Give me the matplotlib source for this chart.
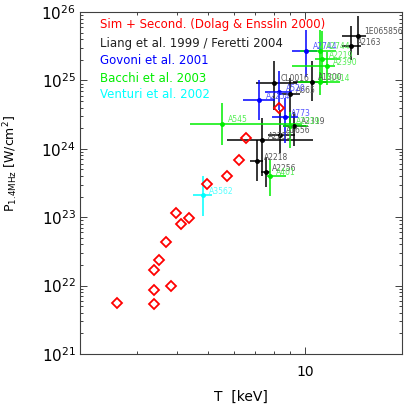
import numpy as np
import matplotlib
matplotlib.use("Agg")
import matplotlib.pyplot as plt
from matplotlib.ticker import LogLocator, NullFormatter, FixedLocator, FixedFormatter

# simulated haloes (Dolag & Ensslin 2000)
sim_T = [2.61, 3.40, 3.40, 3.39, 3.52, 3.83, 3.71, 3.97, 4.12, 4.37, 4.95, 5.74, 6.23, 6.54, 8.30]
sim_P = [5.5e21, 8.6e21, 5.4e21, 1.69e22, 2.37e22, 9.8e21, 4.4e22, 1.16e23, 7.9e22, 9.7e22,
         3.1e23, 3.97e23, 6.96e23, 1.44e24, 3.95e24]

# Liang et al. 1999 / Feretti 2004
lia_name = ['1E065856', 'A2163', 'CL0016', 'A1300', 'A665', 'A2319', 'A1656', 'A2255', 'A2218', 'A2256']
lia_T = [14.6, 13.9, 8.02, 10.5, 8.98, 9.26, 8.36, 7.33, 7.11, 7.56]
lia_T_lo = [13.0, 13.0, 7.04, 9.2, 8.36, 8.56, 7.66, 5.71, 6.75, 7.30]
lia_T_hi = [15.5, 14.9, 9.42, 11.7, 9.65, 10.1, 9.31, 10.6, 7.42, 7.78]
lia_P = [4.52e25, 3.19e25, 9.3e24, 9.6e24, 6.3e24, 2.18e24, 1.61e24, 1.33e24, 6.6e23, 4.54e23]
lia_P_lo = [2.36e25, 2.0e25, 3.73e24, 4.92e24, 2.3e24, 1.1e24, 8.8e23, 4.0e23, 3.36e23, 2.8e23]
lia_P_hi = [8.75e25, 6.25e25, 1.89e25, 1.89e25, 1.1e25, 3.5e24, 3.73e24, 2.85e24, 1.36e24, 7.7e23]

# Govoni et al. 2001
gov_name = ['A2744', 'A520', 'A2254', 'A773']
gov_T = [10.1, 8.32, 7.21, 8.66]
gov_T_lo = [9.09, 7.51, 6.43, 7.88]
gov_T_hi = [10.9, 9.09, 8.06, 9.53]
gov_P = [2.73e25, 6.67e24, 5.1e24, 2.92e24]
gov_P_lo = [1.14e25, 3.73e24, 2.67e24, 1.23e24]
gov_P_hi = [5.47e25, 1.35e25, 1.02e25, 5.57e24]

# Bacchi et al. 2003
bac_name = ['A2744', 'A2219', 'A2390', 'A1914', 'A545', 'A2319', 'A401']
bac_T = [11.1, 11.3, 11.7, 11.1, 5.51, 8.98, 7.78]
bac_T_lo = [9.65, 10.7, 9.09, 9.5, 4.39, 8.56, 7.6]
bac_T_hi = [12.5, 12.8, 12.4, 12.8, 9.8, 10.2, 8.7]
bac_P = [2.73e25, 2.04e25, 1.63e25, 9.5e24, 2.33e24, 2.18e24, 3.97e23]
bac_P_lo = [1.02e25, 9.1e24, 8.6e24, 6.2e24, 1.15e24, 1.04e24, 2.03e23]
bac_P_hi = [5.47e25, 5.2e25, 2.6e25, 1.33e25, 4.71e24, 3.49e24, 6.96e23]

# Venturi et al. 2002
ven_name = ['A3562']
ven_T = [4.81]
ven_T_lo = [4.50]
ven_T_hi = [5.13]
ven_P = [2.08e23]
ven_P_lo = [1.04e23]
ven_P_hi = [4.07e23]

legend_text = ['Sim + Second. (Dolag & Ensslin 2000)', 'Liang et al. 1999 / Feretti 2004',
               'Govoni et al. 2001', 'Bacchi et al. 2003', 'Venturi et al. 2002']
legend_col = ['#ff0000', '#202020', '#0000ff', '#00ee00', '#00ffff']

fig = plt.figure(figsize=(4.07, 4.07), dpi=100)
ax = fig.add_axes([0.1966, 0.1302, 0.7912, 0.8403])
ax.set_xscale('log')
ax.set_yscale('log')


def draw_set(T, Tlo, Thi, P, Plo, Phi, names, col, lab_col):
    T = np.array(T); P = np.array(P)
    xerr = [T - np.array(Tlo), np.array(Thi) - T]
    yerr = [P - np.array(Plo), np.array(Phi) - P]
    ax.errorbar(T, P, xerr=xerr, yerr=yerr, fmt='o', ms=2.5, color=col,
                elinewidth=1.1, capsize=0, zorder=2)
    for t, p, n in zip(T, P, names):
        ax.annotate(n, (t, p), xytext=(4.5, 2.8), textcoords='offset points',
                    fontsize=5.5, color=lab_col, ha='left', va='center', zorder=3)


draw_set(lia_T, lia_T_lo, lia_T_hi, lia_P, lia_P_lo, lia_P_hi, lia_name, 'black', '#555555')
draw_set(gov_T, gov_T_lo, gov_T_hi, gov_P, gov_P_lo, gov_P_hi, gov_name, '#0000ff', '#5555ff')
draw_set(bac_T, bac_T_lo, bac_T_hi, bac_P, bac_P_lo, bac_P_hi, bac_name, '#00ee00', '#55ee55')
draw_set(ven_T, ven_T_lo, ven_T_hi, ven_P, ven_P_lo, ven_P_hi, ven_name, '#00ffff', '#55ffff')

ax.plot(sim_T, sim_P, 'D', ms=5, mfc='none', mec='#ff0000', mew=1.3, zorder=4)

for i, (txt, c) in enumerate(zip(legend_text, legend_col)):
    ax.text(0.062, [0.964, 0.9085, 0.8576, 0.807, 0.760][i], txt, color=c,
            fontsize=8.5, transform=ax.transAxes, ha='left', va='center')

ax.set_xlim(2, 20)
ax.set_ylim(1e21, 1e26)

ax.xaxis.set_major_locator(FixedLocator([10]))
ax.xaxis.set_major_formatter(FixedFormatter(['10']))
ax.xaxis.set_minor_locator(LogLocator(base=10, subs=np.arange(2, 10)))
ax.xaxis.set_minor_formatter(NullFormatter())
ax.yaxis.set_major_locator(LogLocator(base=10, numticks=10))
ax.yaxis.set_minor_locator(LogLocator(base=10, subs=np.arange(2, 10), numticks=20))
ax.yaxis.set_minor_formatter(NullFormatter())

for s in ax.spines.values():
    s.set_color('#404040')
    s.set_linewidth(0.8)
ax.tick_params(which='both', direction='in', top=True, right=True, color='#404040', width=0.7)
ax.tick_params(which='major', length=5, labelsize=11, pad=3)
ax.tick_params(which='minor', length=2.5)
ax.tick_params(axis='x', which='major', labelsize=10, pad=8)

ax.set_xlabel('T  [keV]', fontsize=10)
ax.xaxis.set_label_coords(0.50, -0.105)
ax.set_ylabel(r'P$_{\rm 1.4MHz}$ [W/cm$^2$]', fontsize=9)
ax.yaxis.set_label_coords(-0.186, 0.556)

fig.savefig('out.png', dpi=100)
